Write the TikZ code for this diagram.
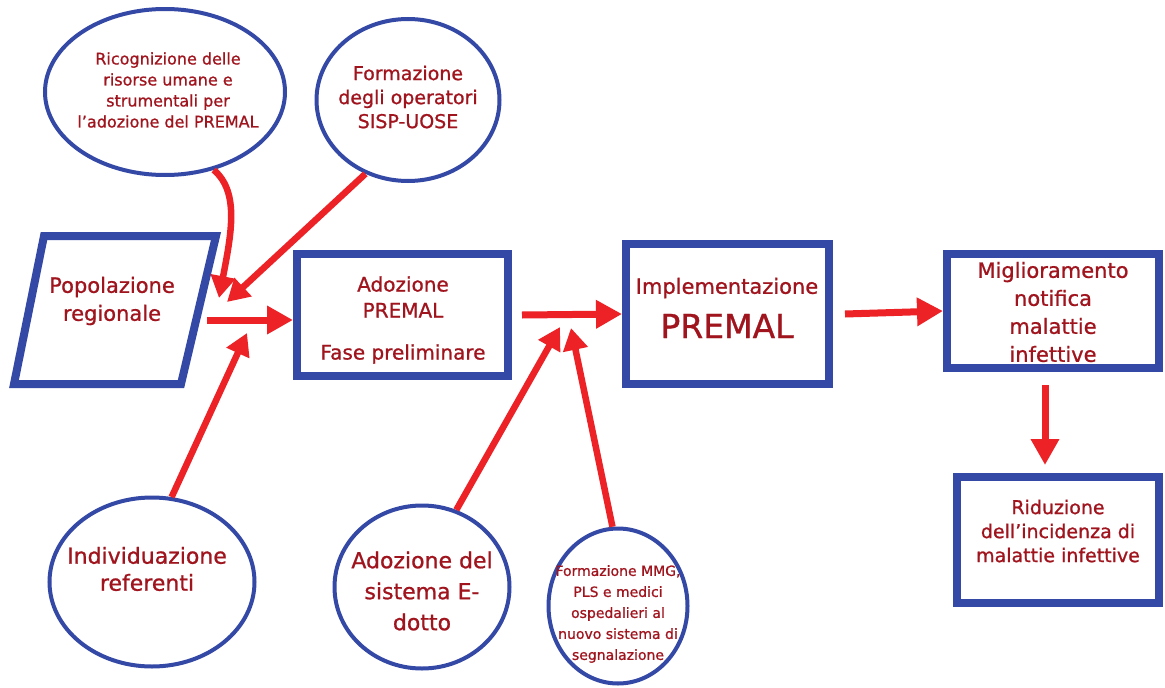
\documentclass[tikz,border=0pt]{standalone}
\usepackage{fontspec}
\setmainfont{DejaVu Sans}[FakeBold=0.9]
\usetikzlibrary{shapes.geometric,arrows.meta}
\definecolor{bl}{RGB}{52,72,165}
\definecolor{ar}{RGB}{236,34,38}
\definecolor{tx}{RGB}{160,20,30}
\newcommand{\fsz}[2]{\fontsize{#1}{#2}\selectfont}
\tikzset{
 ell/.style={ellipse, draw=bl, line width=4pt, inner sep=0pt, fill=white},
 box/.style={rectangle, draw=bl, line width=8pt, fill=white, inner sep=0pt},
 lbl/.style={text=tx, align=center, inner sep=0pt},
 arr/.style={draw=ar, line width=7pt, -{Triangle[length=26pt,width=27pt]}},
 sarr/.style={draw=ar, line width=6.5pt, -{Triangle[length=22pt,width=24pt]}},
}
\begin{document}
\begin{tikzpicture}[x=1pt,y=-1pt]
\useasboundingbox[fill=white] (0,0) rectangle (1165,688);

% ellipses
\node[ell, minimum width=240pt, minimum height=166pt] (ric) at (165,92) {};
\node[lbl, font=\fsz{16}{21}] (rict) at (168,90) {Ricognizione delle\\risorse umane e\\strumentali per\\l’adozione del PREMAL};
\node[ell, minimum width=183pt, minimum height=162pt] (sisp) at (408,100) {};
\node[lbl, font=\fsz{19}{24}] (sispt) at (408,97) {Formazione\\degli operatori\\SISP-UOSE};
\node[ell, minimum width=205pt, minimum height=169pt] (ind) at (152,582) {};
\node[lbl, font=\fsz{22}{27}] (indt) at (147,569) {Individuazione\\referenti};
\node[ell, minimum width=175pt, minimum height=163pt] (edo) at (422,587) {};
\node[lbl, font=\fsz{22}{31}] (edot) at (422,591) {Adozione del\\sistema E-\\dotto};
\node[ell, minimum width=139pt, minimum height=155pt] (mmg) at (618,606) {};
\node[lbl, font=\fsz{14}{21}] (mmgt) at (618,614) {Formazione MMG,\\PLS e medici\\ospedalieri al\\nuovo sistema di\\segnalazione};

% parallelogram
\coordinate (pa) at (44,236);
\coordinate (pb) at (216,236);
\coordinate (pc) at (181,384);
\coordinate (pd) at (14,384);
\draw[draw=bl, line width=8pt, line join=miter, fill=white] (pa) -- (pb) -- (pc) -- (pd) -- cycle;
\node[lbl, font=\fsz{21}{28}] (pop) at (112,301) {Popolazione\\regionale};

% boxes
\node[box, minimum width=211pt, minimum height=122pt] (adoz) at (402.5,315) {};
\node[lbl, font=\fsz{20}{26}] (adozt) at (403,320) {Adozione\\PREMAL\\[16pt]Fase preliminare};
\node[box, minimum width=203pt, minimum height=140pt] (impl) at (727.5,314) {};
\node[lbl, font=\fsz{21}{26}] (implt) at (727,288) {Implementazione};
\node[lbl, font=\fsz{33}{36}] (implp) at (727,326) {PREMAL};
\node[box, minimum width=212pt, minimum height=114pt] (migl) at (1053,311) {};
\node[lbl, font=\fsz{21}{28}] (miglt) at (1053,312) {Miglioramento\\notifica\\malattie\\infettive};
\node[box, minimum width=202pt, minimum height=126pt] (rid) at (1058,540) {};
\node[lbl, font=\fsz{19}{24}] (ridt) at (1058,531) {Riduzione\\dell’incidenza di\\malattie infettive};

% junction points
\coordinate (j1) at (219,298);
\coordinate (j2) at (227,302);
\coordinate (j4) at (247,333);
\coordinate (j6) at (560,327);
\coordinate (j7) at (571,328);
\coordinate (p3) at (207,320);
\coordinate (c9) at (1045,385);

% arrows
\draw[sarr] (ric.302) .. controls (240,192) and (231,235) .. (j1);
\draw[sarr] (sisp.240) -- (j2);
\draw[sarr] (ind.77) -- (j4);
\draw[sarr] (edo.66) -- (j6);
\draw[sarr] (mmg.94) -- (j7);
\draw[arr] (p3) -- (p3 -| adoz.west);
\draw[arr] ([xshift=10pt]adoz.east) -- (impl.west);
\draw[arr] ([xshift=12pt]impl.east) -- (migl.west);
\draw[arr] (c9) -- ([yshift=8pt]rid.north -| c9);
\end{tikzpicture}
\end{document}
